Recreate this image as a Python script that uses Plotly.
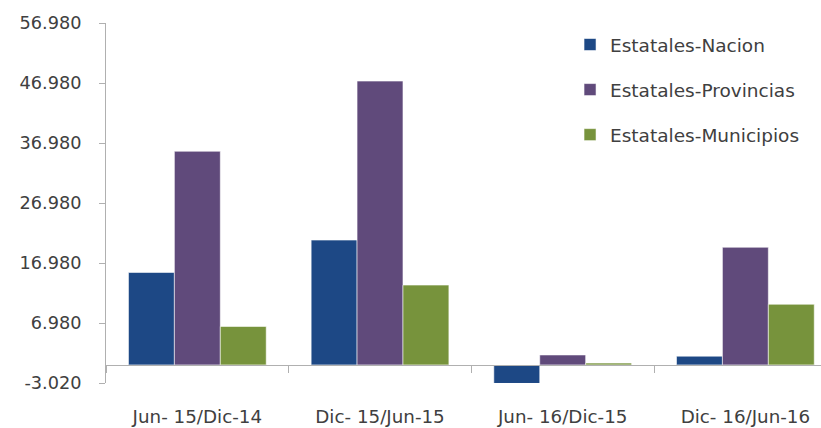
import plotly.graph_objects as go

categories = ["Jun- 15/Dic-14", "Dic- 15/Jun-15", "Jun- 16/Dic-15", "Dic- 16/Jun-16"]
nacion = [15.4, 20.8, -3.1, 1.45]
provincias = [35.6, 47.3, 1.65, 19.6]
municipios = [6.4, 13.3, 0.3, 10.1]
tick_vals = [-3.02, 6.98, 16.98, 26.98, 36.98, 46.98, 56.98]
tick_text = ["-3.020", "6.980", "16.980", "26.980", "36.980", "46.980", "56.980"]

series = [
    ("Estatales-Nacion", nacion, "#1D4885"),
    ("Estatales-Provincias", provincias, "#604A7B"),
    ("Estatales-Municipios", municipios, "#77933C"),
]

FONT = "DejaVu Sans"
TXT = "#404040"
AX = "#B0B0B0"

fig = go.Figure()
for i, (name, vals, col) in enumerate(series):
    fig.add_trace(go.Bar(
        x=categories, y=vals, name=name, legendgroup=f"g{i}",
        marker=dict(color=col, line=dict(color="rgba(255,255,255,0.55)", width=1)),
    ))

fig.update_layout(
    template="none",
    width=821, height=428,
    margin=dict(l=106, r=0, t=23.3, b=44.7, pad=0),
    paper_bgcolor="white", plot_bgcolor="white",
    barmode="group", bargap=0.246, bargroupgap=0,
    font=dict(family=FONT, color=TXT, size=18),
    showlegend=True,
    legend=dict(
        x=0.649, y=0.9917, xanchor="left", yanchor="top",
        font=dict(family=FONT, size=18.5, color=TXT),
        tracegroupgap=18, itemwidth=30,
        bgcolor="rgba(0,0,0,0)",
    ),
    xaxis=dict(
        type="category", range=[-0.5, 3.414],
        anchor="free", position=3.02 / 60.0,
        showline=True, linecolor=AX, linewidth=1,
        ticks="outside", ticklen=7, tickcolor=AX, tickwidth=1,
        tickson="boundaries",
        showgrid=False, zeroline=False,
        tickfont=dict(family=FONT, size=18.3, color=TXT),
        ticklabelstandoff=35,
        automargin=False,
    ),
    yaxis=dict(
        range=[-3.02, 56.98], domain=[0, 1],
        tickmode="array", tickvals=tick_vals, ticktext=tick_text,
        showline=True, linecolor=AX, linewidth=1,
        ticks="outside", ticklen=6, tickcolor=AX, tickwidth=1,
        showgrid=False, zeroline=False,
        tickfont=dict(family=FONT, size=17.7, color=TXT),
        ticklabelstandoff=14,
        automargin=False,
    ),
)

fig.write_html(
    "out.html",
    config={"displayModeBar": False},
    post_script="document.body.style.margin='0';document.body.style.overflow='hidden';",
)
